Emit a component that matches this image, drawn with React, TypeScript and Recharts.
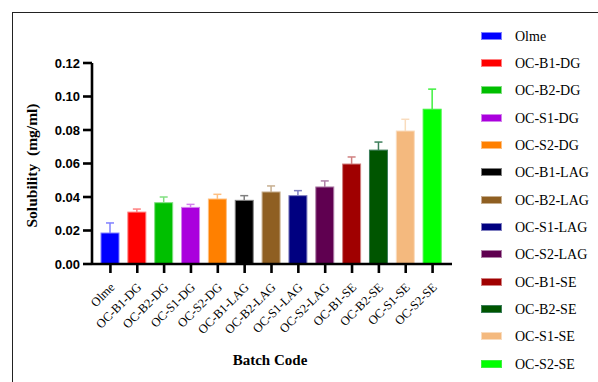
import React from 'react';
import { BarChart, Bar, XAxis, YAxis } from 'recharts';

// Batch codes along the x axis
const batches = [
  'Olme',
  'OC-B1-DG',
  'OC-B2-DG',
  'OC-S1-DG',
  'OC-S2-DG',
  'OC-B1-LAG',
  'OC-B2-LAG',
  'OC-S1-LAG',
  'OC-S2-LAG',
  'OC-B1-SE',
  'OC-B2-SE',
  'OC-S1-SE',
  'OC-S2-SE',
];

// Mean solubility (mg/ml) and its standard deviation
const solubility = [0.0185, 0.031, 0.0366, 0.0338, 0.0388, 0.038, 0.043, 0.0408, 0.046, 0.0597, 0.068, 0.0794, 0.0924];
const solubilitySD = [0.006, 0.0018, 0.0034, 0.0018, 0.0028, 0.0028, 0.0036, 0.003, 0.0036, 0.0042, 0.0048, 0.007, 0.012];

// Fill and error-bar/outline colour per batch
const barColors = [
  '#0000FF', '#FF0000', '#00BF00', '#AA00DD', '#FF8000', '#000000', '#8F5F22',
  '#000080', '#5F0050', '#A00000', '#005500', '#F4B97E', '#00FF00',
];
const errorColors = [
  '#8080FF', '#FF8080', '#80DF80', '#D480EE', '#FFBF80', '#808080', '#C7AF90',
  '#8080C0', '#AF80A8', '#D08080', '#3C7E5A', '#F9DCBE', '#40F040',
];

const yTicks = [0, 0.02, 0.04, 0.06, 0.08, 0.1, 0.12];

const data = batches.map((name, i) => ({
  name,
  value: solubility[i],
  sd: solubilitySD[i],
  color: barColors[i],
  errColor: errorColors[i],
}));

const serif = "'Liberation Serif', 'Times New Roman', 'DejaVu Serif', serif";
const sans = "'Liberation Sans', Arial, Helvetica, sans-serif";

// Bar with a one-sided (upper) SD whisker, scaled from the bar's own pixel height
const BarWithError = (props: any) => {
  const { x, y, width, height, payload } = props;
  if (!height || height <= 0) return null;
  const pxPerUnit = height / payload.value;
  const errPx = payload.sd * pxPerUnit;
  const cx = x + width / 2;
  return (
    <g>
      <rect x={x} y={y} width={width} height={height} fill={payload.color} stroke={payload.errColor} strokeWidth={1} />
      <line x1={cx} y1={y} x2={cx} y2={y - errPx} stroke={payload.errColor} strokeWidth={1.5} />
      <line x1={cx - 4} y1={y - errPx} x2={cx + 4} y2={y - errPx} stroke={payload.errColor} strokeWidth={1.5} />
    </g>
  );
};

const BatchTick = (props: any) => {
  const { x, y, payload } = props;
  const ax = x + 5;
  const ay = y + 13;
  return (
    <text
      x={ax}
      y={ay}
      textAnchor="end"
      transform={`rotate(-45, ${ax}, ${ay})`}
      style={{ fontFamily: serif }}
      fontSize={12.5}
      fill="#000"
    >
      {payload.value}
    </text>
  );
};

const YTitle = (props: any) => {
  const vb = props.viewBox || {};
  const cx = 37;
  const cy = (vb.y ?? 63) + (vb.height ?? 201) / 2 + 2;
  return (
    <text
      x={cx}
      y={cy}
      textAnchor="middle"
      transform={`rotate(-90, ${cx}, ${cy})`}
      style={{ fontFamily: serif, whiteSpace: 'pre' }}
      fontWeight="bold"
      fontSize={15.5}
      fill="#000"
    >
      {'Solubility  (mg/ml)'}
    </text>
  );
};

const XTitle = (props: any) => {
  const vb = props.viewBox || {};
  const cx = (vb.x ?? 92) + (vb.width ?? 360) / 2 - 2;
  return (
    <text x={cx} y={365} textAnchor="middle" style={{ fontFamily: serif }} fontWeight="bold" fontSize={15} fill="#000">
      Batch Code
    </text>
  );
};

export default function App() {
  return (
    <div style={{ position: 'fixed', left: 0, top: 0, width: 598, height: 382, background: '#fff', overflow: 'hidden' }}>
      <div
        style={{
          position: 'absolute',
          left: 12,
          top: 12,
          right: 0,
          bottom: 0,
          borderTop: '1px solid #222',
          borderLeft: '1px solid #222',
        }}
      />
      <div style={{ position: 'absolute', left: 0, top: 0 }}>
        <BarChart
          width={598}
          height={382}
          data={data}
          margin={{ top: 63, right: 146, bottom: 0, left: 0 }}
          barSize={18}
        >
          <YAxis
            width={92}
            domain={[0, 0.12]}
            ticks={yTicks}
            interval={0}
            tickFormatter={(v: number) => v.toFixed(2)}
            tick={{ fontFamily: sans, fontWeight: 'bold', fontSize: 13, fill: '#000' }}
            tickSize={9}
            tickMargin={3}
            axisLine={{ stroke: '#000', strokeWidth: 2.6 }}
            tickLine={{ stroke: '#000', strokeWidth: 2.6 }}
            label={{ content: <YTitle /> }}
          />
          <XAxis
            dataKey="name"
            height={118}
            interval={0}
            padding={{ left: 5, right: 6 }}
            tick={<BatchTick />}
            tickSize={9}
            tickMargin={2}
            axisLine={{ stroke: '#000', strokeWidth: 2.6 }}
            tickLine={{ stroke: '#000', strokeWidth: 2.6 }}
            label={{ content: <XTitle /> }}
          />
          <Bar dataKey="value" isAnimationActive={false} shape={<BarWithError />} />
        </BarChart>
      </div>
      <div style={{ position: 'absolute', left: 481, top: 22 }}>
        {batches.map((b, i) => (
          <div key={b} style={{ height: 27.35, display: 'flex', alignItems: 'center' }}>
            <div
              style={{
                width: 21,
                height: 8,
                background: barColors[i],
                boxSizing: 'border-box',
                border: `1px solid ${errorColors[i]}`,
              }}
            />
            <span style={{ marginLeft: 13, fontFamily: serif, fontSize: 14, color: '#000', lineHeight: '16px', position: 'relative', top: 1 }}>
              {b}
            </span>
          </div>
        ))}
      </div>
    </div>
  );
}
